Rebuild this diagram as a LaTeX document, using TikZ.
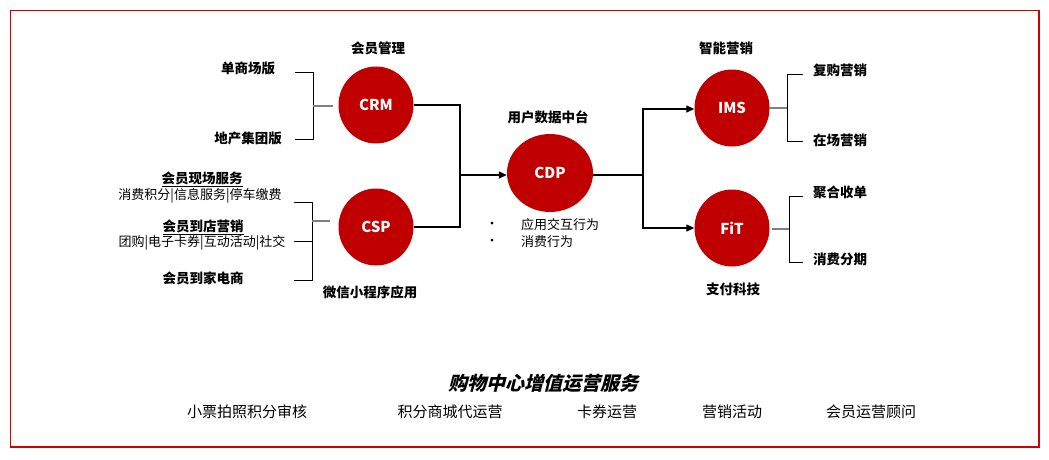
\documentclass[tikz,border=0pt]{standalone}
\usepackage{fontspec}
\setmainfont{Noto Sans CJK SC}
\newfontfamily\cjkslant{Noto Sans CJK SC}[FakeSlant=0.25,BoldFeatures={FakeSlant=0.25}]
\usetikzlibrary{arrows.meta,shapes.geometric}
\definecolor{dred}{RGB}{192,0,0}
\definecolor{bred}{RGB}{210,0,0}
\definecolor{stubgray}{RGB}{128,128,128}
\begin{document}
\begin{tikzpicture}[x=1pt,y=-1pt,
  bubble/.style={ellipse,fill=dred,text=white,font=\fontsize{15}{18}\selectfont\bfseries,inner sep=0pt,minimum width=75pt,minimum height=77pt},
  bigbubble/.style={bubble,minimum width=86pt,minimum height=78pt},
  lbl/.style={inner sep=0pt,font=\fontsize{13.5}{16}\selectfont\bfseries},
  txt/.style={inner sep=0pt,font=\fontsize{13}{16}\selectfont},
  btm/.style={inner sep=0pt,font=\fontsize{15}{18}\selectfont},
  conn/.style={draw=black,line width=1.3pt},
  stub/.style={draw=stubgray,line width=2pt},
  arr/.style={conn,-{Triangle[length=8pt,width=7pt]}}]
\useasboundingbox (0,0) rectangle (1049,460);
\draw[bred,line width=1.5pt] (10.5,10.5) rectangle (1039,447);

% circles
\node[bubble] (crm) at (376,105) {CRM};
\node[bubble] (csp) at (376,227) {CSP};
\node[bigbubble] (cdp) at (550,173) {CDP};
\node[bubble] (ims) at (732,108) {IMS};
\node[bubble] (fit) at (732,228) {FiT};

% circle labels
\node[lbl] (l1) at (378,48) {会员管理};
\node[lbl] (l2) at (370,292) {微信小程序应用};
\node[lbl] (l3) at (548,117) {用户数据中台};
\node[lbl] (l4) at (726,48) {智能营销};
\node[lbl] (l5) at (733,289) {支付科技};

% CRM bracket
\node[lbl] (t1) at (248,68) {单商场版};
\node[lbl] (t2) at (248,138) {地产集团版};
\coordinate (b1a) at (295,72.5);
\coordinate (b1b) at (313,72.5);
\coordinate (b1c) at (313,139);
\coordinate (b1d) at (295,139);
\coordinate (b1m) at (313,106);
\coordinate (b1e) at (333,106);
\draw[conn,line width=1pt] (b1a) -- (b1b) -- (b1c) -- (b1d);
\draw[stub] (b1m) -- (b1e);

% CSP bracket
\node[lbl] (t3) at (202,179) {\underline{会员现场服务}};
\node[txt] (t4) at (200,196) {消费积分|信息服务|停车缴费};
\node[lbl] (t5) at (203,227) {\underline{会员到店营销}};
\node[txt] (t6) at (202,243) {团购|电子卡券|互动活动|社交};
\node[lbl] (t7) at (203,278) {会员到家电商};
\coordinate (b2a) at (294,202);
\coordinate (b2b) at (312,202);
\coordinate (b2c) at (312,280);
\coordinate (b2d) at (294,280);
\coordinate (b2m1) at (294,241);
\coordinate (b2m2) at (312,241);
\coordinate (b2s) at (312,221);
\coordinate (b2e) at (330,221);
\draw[conn,line width=1pt] (b2a) -- (b2b) -- (b2c) -- (b2d);
\draw[conn,line width=1pt] (b2m1) -- (b2m2);
\draw[stub] (b2s) -- (b2e);

% CRM/CSP to CDP
\coordinate (j1) at (460,175);
\draw[conn] (crm.east) -| (j1);
\draw[conn] (csp.east) -| (j1);
\draw[arr] (j1) -- (cdp.west |- j1);

% CDP to IMS / FiT
\coordinate (j2) at (643,175);
\draw[conn] (cdp.east |- j2) -- (j2);
\draw[arr] (j2) |- (ims.west |- 0,109);
\draw[arr] (j2) |- (fit.west |- 0,228);

% CDP bullets
\node[txt,anchor=west] (c1) at (521,225) {应用交互行为};
\node[txt,anchor=west] (c2) at (521,242) {消费行为};
\node[txt] (d1) at (492,225) {•};
\node[txt] (d2) at (492,242) {•};

% IMS bracket
\node[lbl,anchor=west] (r1) at (813,70) {复购营销};
\node[lbl,anchor=west] (r2) at (813,140) {在场营销};
\coordinate (b3s) at (769,108);
\coordinate (b3m) at (787,108);
\coordinate (b3a) at (803,74);
\coordinate (b3b) at (787,74);
\coordinate (b3c) at (787,141);
\coordinate (b3d) at (803,141);
\draw[conn,line width=1pt] (b3a) -- (b3b) -- (b3c) -- (b3d);
\draw[stub] (b3s) -- (b3m);

% FiT bracket
\node[lbl,anchor=west] (r3) at (813,192) {聚合收单};
\node[lbl,anchor=west] (r4) at (813,259) {消费分期};
\coordinate (b4s) at (772,229);
\coordinate (b4m) at (789,229);
\coordinate (b4a) at (803,196);
\coordinate (b4b) at (789,196);
\coordinate (b4c) at (789,262);
\coordinate (b4d) at (803,262);
\draw[conn,line width=1pt] (b4a) -- (b4b) -- (b4c) -- (b4d);
\draw[stub] (b4s) -- (b4m);

% bottom
\node[inner sep=0pt,font=\fontsize{19}{22}\selectfont\cjkslant\bfseries] (title) at (543,383) {购物中心增值运营服务};
\node[btm] (s1) at (247,412) {小票拍照积分审核};
\node[btm] (s2) at (450,412) {积分商城代运营};
\node[btm] (s3) at (607,412) {卡券运营};
\node[btm] (s4) at (732,412) {营销活动};
\node[btm] (s5) at (871,412) {会员运营顾问};
\end{tikzpicture}
\end{document}
